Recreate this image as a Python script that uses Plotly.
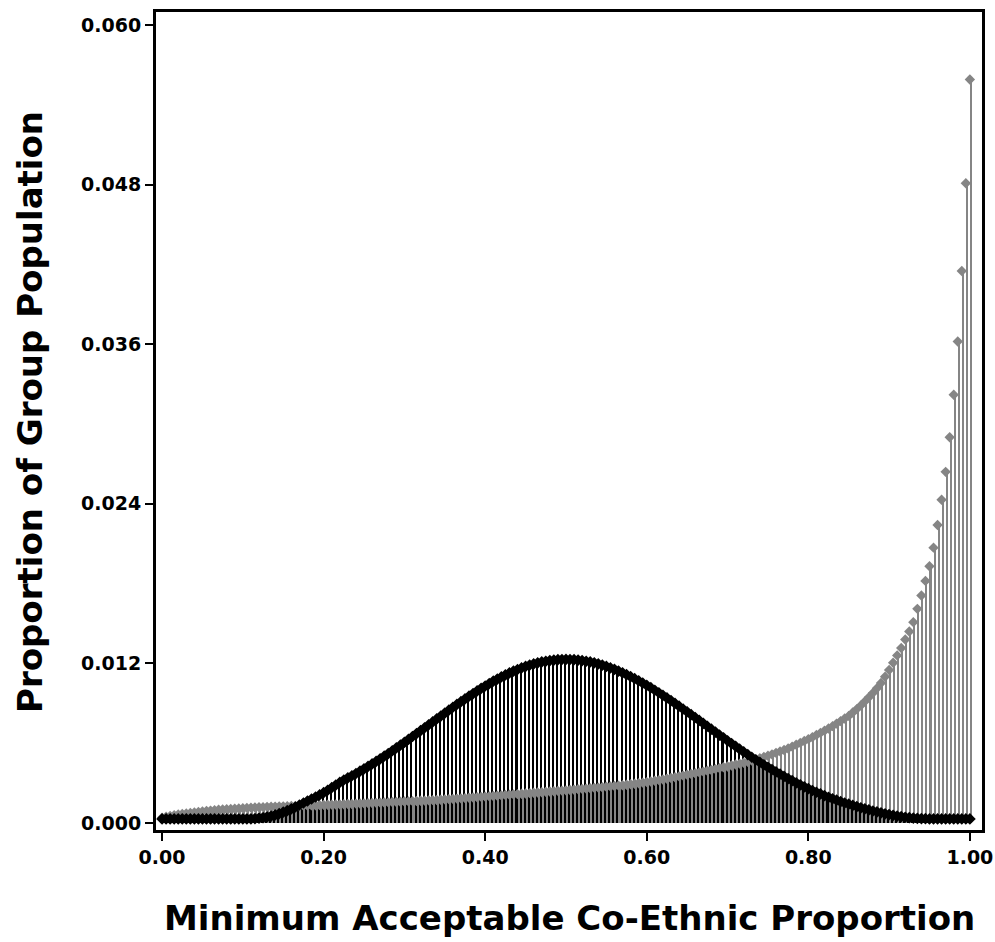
import numpy as np
import plotly.graph_objects as go

# Minimum acceptable co-ethnic proportion, 0 to 1 in steps of 0.005
x_vals = np.round(np.linspace(0.0, 1.0, 201), 3)

# Proportion of group population at each threshold: bell-shaped group
black_group = [
    0.00030, 0.00030, 0.00030, 0.00030, 0.00030, 0.00030, 0.00030, 0.00030, 0.00030, 0.00030,
    0.00030, 0.00030, 0.00030, 0.00030, 0.00030, 0.00030, 0.00030, 0.00030, 0.00030, 0.00030,
    0.00030, 0.00030, 0.00031, 0.00033, 0.00036, 0.00040, 0.00045, 0.00052, 0.00060, 0.00070,
    0.00081, 0.00093, 0.00106, 0.00120, 0.00135, 0.00150, 0.00165, 0.00180, 0.00195, 0.00211,
    0.00228, 0.00246, 0.00265, 0.00285, 0.00305, 0.00323, 0.00339, 0.00355, 0.00372, 0.00389,
    0.00407, 0.00425, 0.00444, 0.00463, 0.00482, 0.00502, 0.00522, 0.00543, 0.00564, 0.00585,
    0.00606, 0.00628, 0.00650, 0.00672, 0.00694, 0.00716, 0.00738, 0.00760, 0.00782, 0.00804,
    0.00826, 0.00848, 0.00870, 0.00891, 0.00912, 0.00933, 0.00953, 0.00973, 0.00993, 0.01012,
    0.01030, 0.01048, 0.01066, 0.01082, 0.01098, 0.01113, 0.01128, 0.01141, 0.01154, 0.01166,
    0.01177, 0.01187, 0.01196, 0.01204, 0.01211, 0.01216, 0.01221, 0.01225, 0.01228, 0.01229,
    0.01230, 0.01229, 0.01228, 0.01225, 0.01221, 0.01216, 0.01211, 0.01204, 0.01196, 0.01187,
    0.01177, 0.01166, 0.01155, 0.01142, 0.01129, 0.01115, 0.01100, 0.01085, 0.01069, 0.01052,
    0.01035, 0.01017, 0.00998, 0.00979, 0.00960, 0.00940, 0.00920, 0.00899, 0.00878, 0.00857,
    0.00836, 0.00814, 0.00793, 0.00771, 0.00749, 0.00727, 0.00705, 0.00683, 0.00661, 0.00640,
    0.00618, 0.00597, 0.00576, 0.00555, 0.00534, 0.00514, 0.00494, 0.00475, 0.00456, 0.00437,
    0.00419, 0.00401, 0.00384, 0.00367, 0.00350, 0.00334, 0.00318, 0.00302, 0.00287, 0.00272,
    0.00258, 0.00244, 0.00231, 0.00218, 0.00205, 0.00193, 0.00182, 0.00171, 0.00160, 0.00150,
    0.00141, 0.00132, 0.00123, 0.00114, 0.00106, 0.00098, 0.00090, 0.00083, 0.00076, 0.00069,
    0.00063, 0.00057, 0.00052, 0.00047, 0.00043, 0.00040, 0.00037, 0.00035, 0.00033, 0.00032,
    0.00030, 0.00030, 0.00030, 0.00030, 0.00030, 0.00030, 0.00030, 0.00030, 0.00030, 0.00030,
    0.00030,
]

# Proportion of group population at each threshold: group skewed toward 1
gray_group = [
    0.00040, 0.00047, 0.00053, 0.00058, 0.00063, 0.00067, 0.00071, 0.00075, 0.00079, 0.00083,
    0.00087, 0.00090, 0.00093, 0.00096, 0.00099, 0.00101, 0.00103, 0.00105, 0.00107, 0.00109,
    0.00111, 0.00113, 0.00115, 0.00116, 0.00118, 0.00119, 0.00121, 0.00122, 0.00123, 0.00124,
    0.00125, 0.00126, 0.00127, 0.00128, 0.00129, 0.00130, 0.00131, 0.00132, 0.00133, 0.00134,
    0.00136, 0.00137, 0.00138, 0.00139, 0.00140, 0.00141, 0.00142, 0.00143, 0.00145, 0.00146,
    0.00147, 0.00149, 0.00150, 0.00151, 0.00153, 0.00154, 0.00155, 0.00157, 0.00158, 0.00159,
    0.00161, 0.00162, 0.00164, 0.00165, 0.00167, 0.00168, 0.00170, 0.00172, 0.00173, 0.00175,
    0.00177, 0.00179, 0.00181, 0.00183, 0.00185, 0.00187, 0.00189, 0.00191, 0.00193, 0.00196,
    0.00198, 0.00200, 0.00203, 0.00205, 0.00207, 0.00210, 0.00212, 0.00215, 0.00217, 0.00220,
    0.00222, 0.00224, 0.00227, 0.00229, 0.00231, 0.00234, 0.00236, 0.00238, 0.00241, 0.00243,
    0.00245, 0.00248, 0.00250, 0.00253, 0.00256, 0.00258, 0.00261, 0.00264, 0.00266, 0.00269,
    0.00272, 0.00275, 0.00278, 0.00281, 0.00284, 0.00287, 0.00291, 0.00295, 0.00299, 0.00303,
    0.00307, 0.00312, 0.00317, 0.00322, 0.00327, 0.00332, 0.00338, 0.00344, 0.00350, 0.00356,
    0.00362, 0.00368, 0.00374, 0.00380, 0.00386, 0.00392, 0.00398, 0.00405, 0.00412, 0.00419,
    0.00425, 0.00432, 0.00439, 0.00446, 0.00453, 0.00460, 0.00469, 0.00478, 0.00487, 0.00496,
    0.00505, 0.00516, 0.00527, 0.00538, 0.00549, 0.00560, 0.00574, 0.00588, 0.00602, 0.00616,
    0.00630, 0.00645, 0.00661, 0.00677, 0.00693, 0.00710, 0.00728, 0.00747, 0.00766, 0.00785,
    0.00805, 0.00830, 0.00856, 0.00884, 0.00914, 0.00945, 0.00978, 0.01013, 0.01052, 0.01100,
    0.01150, 0.01205, 0.01260, 0.01315, 0.01380, 0.01440, 0.01510, 0.01610, 0.01710, 0.01820,
    0.01930, 0.02070, 0.02240, 0.02430, 0.02640, 0.02900, 0.03220, 0.03620, 0.04150, 0.04810,
    0.05590,
]

x_ticks = [0.0, 0.2, 0.4, 0.6, 0.8, 1.0]
y_ticks = [0.0, 0.012, 0.024, 0.036, 0.048, 0.060]

BLACK = "#000000"
GRAY = "#858585"
FONT = "DejaVu Sans"

fig = go.Figure()

# Needle stems, side by side within each 0.005 slot
fig.add_trace(go.Bar(x=x_vals, y=black_group, marker=dict(color=BLACK, line=dict(width=0)),
                     hoverinfo="skip"))
fig.add_trace(go.Bar(x=x_vals, y=gray_group, marker=dict(color=GRAY, line=dict(width=0)),
                     hoverinfo="skip"))

# Diamond markers at the top of each stem
fig.add_trace(go.Scatter(x=x_vals, y=gray_group, mode="markers",
                         marker=dict(symbol="diamond", size=8, color=GRAY, line=dict(width=0))))
fig.add_trace(go.Scatter(x=x_vals, y=black_group, mode="markers",
                         marker=dict(symbol="diamond", size=9, color=BLACK, line=dict(width=0))))

axis_common = dict(
    showgrid=False, zeroline=False,
    showline=True, linewidth=3, linecolor=BLACK, mirror=True,
    ticks="outside", ticklen=8, tickwidth=2, tickcolor=BLACK,
    tickfont=dict(family=FONT, size=19, color=BLACK, weight="bold"),
    automargin=False,
)

fig.update_layout(
    width=995, height=942,
    margin=dict(l=156, r=13, t=12, b=112, autoexpand=False),
    plot_bgcolor="white", paper_bgcolor="white",
    showlegend=False,
    barmode="group", bargap=0, bargroupgap=0,
    xaxis=dict(range=[-0.0075, 1.015], tickvals=x_ticks, tickformat=".2f", **axis_common),
    yaxis=dict(range=[-0.00053, 0.06098], tickvals=y_ticks, tickformat=".3f", **axis_common),
    annotations=[
        dict(text="Minimum Acceptable Co-Ethnic Proportion", xref="paper", yref="paper",
             x=0.501, y=-0.1076, xanchor="center", yanchor="middle", showarrow=False,
             font=dict(family=FONT, size=34, color=BLACK, weight="bold")),
        dict(text="Proportion of Group Population", xref="paper", yref="paper",
             x=-0.1525, y=0.511, xanchor="center", yanchor="middle", showarrow=False,
             textangle=-90,
             font=dict(family=FONT, size=34, color=BLACK, weight="bold")),
    ],
)

fig.write_html("out.html")
